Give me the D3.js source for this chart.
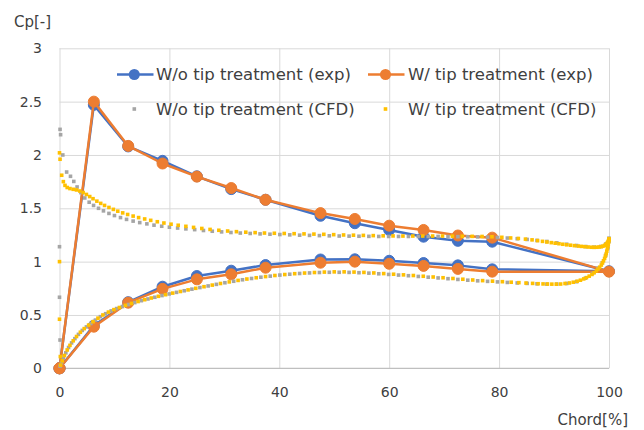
<!DOCTYPE html>
<html>
<head>
<meta charset="utf-8">
<script src="https://cdn.jsdelivr.net/npm/d3@7"></script>
<style>
  html, body { margin: 0; padding: 0; background: #ffffff; }
  svg { display: block; }
  text { font-family: "DejaVu Sans", "Noto Sans", sans-serif; fill: #404040; }
</style>
</head>
<body>
<svg id="chart" width="644" height="430"></svg>
<script>
// ---- Axis ticks ----
const xTicks = [0, 20, 40, 60, 80, 100];
const yTicks = [0, 0.5, 1, 1.5, 2, 2.5, 3];

// ---- Experimental data: chord positions [%], upper surface then lower surface ----
const expChord = [0, 6.25, 12.5, 18.75, 25, 31.25, 37.5, 47.5, 53.75, 60, 66.25, 72.5, 78.75, 100,
                  78.75, 72.5, 66.25, 60, 53.75, 47.5, 37.5, 31.25, 25, 18.75, 12.5, 6.25, 0];
const expWoCp = [0, 2.47, 2.08, 1.945, 1.80, 1.68, 1.58, 1.43, 1.36, 1.297, 1.234, 1.195, 1.187, 0.91,
                 0.928, 0.965, 0.987, 1.008, 1.022, 1.02, 0.968, 0.915, 0.865, 0.765, 0.62, 0.40, 0];
const expWCp  = [0, 2.50, 2.085, 1.92, 1.797, 1.69, 1.58, 1.455, 1.40, 1.337, 1.297, 1.245, 1.225, 0.906,
                 0.906, 0.932, 0.96, 0.98, 1.0, 0.99, 0.943, 0.881, 0.834, 0.745, 0.615, 0.39, 0];

// ---- CFD without tip treatment: [chord %, Cp] ----
const cfdWoEdge = [[0.1, 2.24], [0.2, 2.19], [0.0, 1.14], [0.0, 0.666], [0.1, 0.265]];
const cfdWoUpper = [[0.6,2.0],[1.3,1.84],[2.0,1.8],[2.6,1.752],[3.2,1.7],[3.9,1.647],[4.6,1.597],[5.4,1.557],
  [6.2,1.527],[7.1,1.5],[8.0,1.476],[9.0,1.452],[10.0,1.432],[11.1,1.413],[12.2,1.396],[13.4,1.38],
  [14.6,1.366],[15.9,1.354],[17.2,1.342],[18.6,1.332],[20.0,1.323],[21.5,1.315],[23.0,1.307],[24.6,1.3],
  [26.2,1.292],[27.8,1.285],[29.5,1.279],[31.2,1.273],[32.9,1.268],[34.7,1.264],[36.5,1.26],[38.3,1.257],
  [40.1,1.254],[41.9,1.251],[43.7,1.248],[45.5,1.246],[47.3,1.244],[49.1,1.242],[50.9,1.24],[52.7,1.239],
  [54.5,1.238],[56.3,1.237],[58.1,1.236],[59.9,1.236],[61.7,1.236],[63.5,1.236],[65.3,1.236],[67.1,1.236],
  [68.9,1.236],[70.7,1.235],[72.5,1.234],[74.3,1.233],[76.1,1.232],[77.9,1.23],[79.7,1.226],[81.5,1.221],
  [83.3,1.215],[85.1,1.208],[86.9,1.199],[88.7,1.189],[90.5,1.176],[92.3,1.163],[94.1,1.151],[95.8,1.141],
  [97.3,1.136],[98.5,1.142],[99.4,1.165],[100,1.22]];
const cfdWoLower = [[0.1,0.02],[0.35,0.05],[0.7,0.095],[1.15,0.145],[1.65,0.195],[2.2,0.238],[2.8,0.278],
  [3.45,0.318],[4.15,0.355],[4.9,0.388],[5.7,0.42],[6.55,0.452],[7.45,0.484],[8.4,0.512],[9.4,0.538],
  [10.4,0.56],[11.45,0.579],[12.55,0.598],[13.7,0.616],[14.9,0.634],[16.1,0.65],[17.35,0.666],[18.65,0.682],
  [19.95,0.697],[21.3,0.712],[22.7,0.727],[24.1,0.742],[25.55,0.757],[27.05,0.772],[28.55,0.787],[30.1,0.802],
  [31.7,0.816],[33.3,0.83],[34.95,0.842],[36.65,0.854],[38.35,0.864],[40.1,0.874],[41.9,0.882],[43.7,0.889],
  [45.5,0.894],[47.3,0.898],[49.1,0.9],[50.9,0.9],[52.7,0.899],[54.5,0.896],[56.3,0.892],[58.1,0.886],
  [59.9,0.88],[61.7,0.874],[63.5,0.868],[65.3,0.861],[67.1,0.854],[68.9,0.847],[70.7,0.84],[72.5,0.833],
  [74.3,0.826],[76.1,0.82],[77.9,0.815],[79.7,0.81],[81.5,0.805],[83.3,0.8],[85.1,0.796],[86.9,0.792],
  [88.7,0.789],[90.5,0.789],[92.3,0.795],[94.1,0.812],[95.7,0.845],[97.0,0.89],[98.0,0.94],[98.8,0.99],
  [99.4,1.06],[99.8,1.13],[100,1.19]];

// ---- CFD with tip treatment: [chord %, Cp] ----
const cfdWEdge = [[0.0, 2.02], [0.1, 1.96], [0.0, 1.0], [0.0, 0.46], [0.15, 0.11]];
const cfdWUpper = [[0.4,1.81],[0.7,1.75],[1.0,1.715],[1.4,1.695],[1.9,1.685],[2.5,1.678],[3.1,1.672],
  [3.7,1.662],[4.3,1.648],[4.9,1.63],[5.5,1.61],[6.1,1.59],[6.8,1.567],[7.5,1.546],[8.2,1.527],[9.0,1.508],
  [9.8,1.49],[10.6,1.473],[11.5,1.457],[12.4,1.442],[13.4,1.427],[14.4,1.413],[15.5,1.4],[16.6,1.387],
  [17.8,1.374],[19.0,1.362],[20.3,1.351],[21.6,1.341],[23.0,1.331],[24.4,1.321],[25.9,1.311],[27.4,1.302],
  [29.0,1.294],[30.6,1.287],[32.2,1.281],[33.9,1.276],[35.6,1.272],[37.3,1.268],[39.1,1.266],[40.9,1.264],
  [42.7,1.262],[44.5,1.26],[46.3,1.258],[48.1,1.256],[49.9,1.253],[51.7,1.25],[53.5,1.248],[55.3,1.246],
  [57.1,1.244],[58.9,1.242],[60.7,1.241],[62.5,1.24],[64.3,1.24],[66.1,1.24],[67.9,1.24],[69.7,1.24],
  [71.5,1.239],[73.3,1.238],[75.1,1.237],[76.9,1.236],[78.7,1.233],[80.5,1.228],[82.1,1.222],[83.5,1.217],
  [84.8,1.211],[86.0,1.204],[87.0,1.197],[87.9,1.19],[88.7,1.184],[89.5,1.178],[90.2,1.173],[90.9,1.168],
  [91.6,1.163],[92.3,1.158],[93.0,1.154],[93.7,1.15],[94.4,1.146],[95.0,1.143],[95.6,1.14],[96.2,1.137],
  [96.8,1.135],[97.3,1.134],[97.8,1.135],[98.2,1.137],[98.6,1.14],[98.9,1.145],[99.2,1.152],[99.4,1.16],
  [99.6,1.17],[99.75,1.18],[99.85,1.19],[99.95,1.2],[100,1.21]];
const cfdWLower = [[0.2,0.03],[0.5,0.07],[0.9,0.12],[1.4,0.172],[1.9,0.215],[2.5,0.258],[3.1,0.298],
  [3.8,0.338],[4.5,0.372],[5.3,0.405],[6.1,0.437],[7.0,0.47],[7.9,0.5],[8.9,0.527],[9.9,0.55],[10.9,0.57],
  [12.0,0.59],[13.1,0.608],[14.3,0.626],[15.5,0.643],[16.7,0.659],[18.0,0.675],[19.3,0.69],[20.6,0.705],
  [22.0,0.72],[23.4,0.735],[24.8,0.75],[26.3,0.765],[27.8,0.78],[29.3,0.795],[30.9,0.81],[32.5,0.824],
  [34.1,0.837],[35.8,0.849],[37.5,0.86],[39.2,0.87],[41.0,0.879],[42.8,0.887],[44.6,0.893],[46.4,0.898],
  [48.2,0.902],[50.0,0.904],[51.8,0.904],[53.6,0.902],[55.4,0.899],[57.2,0.894],[59.0,0.888],[60.8,0.882],
  [62.6,0.876],[64.4,0.87],[66.2,0.863],[68.0,0.856],[69.8,0.849],[71.6,0.842],[73.4,0.835],[75.2,0.828],
  [77.0,0.822],[78.8,0.817],[80.6,0.812],[82.2,0.807],[83.6,0.803],[84.9,0.799],[86.1,0.796],[87.1,0.793],
  [88.0,0.791],[88.8,0.79],[89.6,0.789],[90.4,0.789],[91.2,0.79],[92.0,0.795],[92.8,0.8],[93.5,0.807],
  [94.2,0.816],[94.8,0.826],[95.4,0.838],[95.9,0.85],[96.4,0.864],[96.9,0.88],[97.3,0.896],[97.7,0.913],
  [98.0,0.93],[98.3,0.948],[98.6,0.968],[98.8,0.988],[99.0,1.008],[99.2,1.03],[99.35,1.052],[99.5,1.075],
  [99.6,1.098],[99.7,1.12],[99.8,1.142],[99.87,1.163],[99.93,1.183],[99.97,1.2],[100,1.215]];

// ---- Series styling ----
const legendLabels = ["W/o tip treatment (exp)", "W/ tip treatment (exp)",
                      "W/o tip treatment (CFD)", "W/ tip treatment (CFD)"];
const colors = { wo: "#4472C4", w: "#ED7D31", woCfd: "#A5A5A5", wCfd: "#FFC000" };
const fontStack = "DejaVu Sans, Noto Sans, sans-serif";

const svg = d3.select("#chart");
const x = d3.scaleLinear().domain([0, 100]).range([59.5, 609]);
const y = d3.scaleLinear().domain([0, 3]).range([368.3, 48.3]);

// Gridlines
const grid = svg.append("g");
grid.append("g")
  .attr("transform", `translate(0,${y(0)})`)
  .call(d3.axisBottom(x).tickValues(xTicks).tickSize(-(y(0) - y(3))).tickFormat(""))
  .call(g => g.select(".domain").remove())
  .call(g => g.selectAll("line").attr("stroke", "#d9d9d9").attr("stroke-width", 1));
grid.append("g")
  .attr("transform", `translate(${x(0)},0)`)
  .call(d3.axisLeft(y).tickValues(yTicks.filter(v => v > 0)).tickSize(-(x(100) - x(0))).tickFormat(""))
  .call(g => g.select(".domain").remove())
  .call(g => g.selectAll("line").attr("stroke", "#d9d9d9").attr("stroke-width", 1));
// Category axis line
svg.append("line")
  .attr("x1", x(0)).attr("x2", x(100)).attr("y1", y(0)).attr("y2", y(0))
  .attr("stroke", "#bfbfbf").attr("stroke-width", 1.2);

// Tick labels
svg.append("g")
  .attr("transform", `translate(0,${y(0)})`)
  .call(d3.axisBottom(x).tickValues(xTicks).tickSize(0).tickPadding(19).tickFormat(d3.format("d")))
  .call(g => g.select(".domain").remove())
  .call(g => g.selectAll("text").attr("font-size", 14).attr("fill", "#404040")
    .attr("font-family", fontStack));
svg.append("g")
  .attr("transform", `translate(42,0)`)
  .call(d3.axisLeft(y).tickValues(yTicks).tickSize(0).tickPadding(0).tickFormat(d3.format("")))
  .call(g => g.select(".domain").remove())
  .call(g => g.selectAll("text").attr("font-size", 14).attr("fill", "#404040")
    .attr("font-family", fontStack));

// Axis titles
svg.append("text").attr("x", 14).attr("y", 26.5).attr("font-size", 15).text("Cp[-]");
svg.append("text").attr("x", 628).attr("y", 425).attr("text-anchor", "end").attr("font-size", 15).text("Chord[%]");

// Experimental series: lines with circle markers
const line = d3.line().x(d => x(d[0])).y(d => y(d[1]));
function drawExp(cp, color) {
  const pts = expChord.map((c, i) => [c, cp[i]]);
  const g = svg.append("g");
  g.append("path").datum(pts).attr("d", line)
    .attr("fill", "none").attr("stroke", color).attr("stroke-width", 2.5)
    .attr("stroke-linejoin", "round");
  g.selectAll("circle").data(pts).join("circle")
    .attr("cx", d => x(d[0])).attr("cy", d => y(d[1])).attr("r", 5.5)
    .attr("fill", color).attr("stroke", color).attr("stroke-width", 1);
}
drawExp(expWoCp, colors.wo);
drawExp(expWCp, colors.w);

// CFD series: small square markers
const sq = 3.6;
function drawCfd(sets, color) {
  const pts = [].concat(...sets);
  svg.append("g").selectAll("rect").data(pts).join("rect")
    .attr("x", d => x(d[0]) - sq / 2).attr("y", d => y(d[1]) - sq / 2)
    .attr("width", sq).attr("height", sq).attr("fill", color);
}
drawCfd([cfdWoEdge, cfdWoUpper, cfdWoLower], colors.woCfd);
drawCfd([cfdWEdge, cfdWUpper, cfdWLower], colors.wCfd);

// Legend (two rows, two columns)
const legend = svg.append("g");
const legendItems = [
  { label: legendLabels[0], color: colors.wo, kind: "line", lx: 117, mx: 134.3, tx: 156, ty: 74.5 },
  { label: legendLabels[1], color: colors.w, kind: "line", lx: 368, mx: 385.5, tx: 408, ty: 74.5 },
  { label: legendLabels[2], color: colors.woCfd, kind: "dot", mx: 134.3, tx: 156, ty: 109 },
  { label: legendLabels[3], color: colors.wCfd, kind: "dot", mx: 385.5, tx: 408, ty: 109 }
];
legendItems.forEach(it => {
  if (it.kind === "line") {
    legend.append("line").attr("x1", it.lx).attr("x2", it.lx + 36.5)
      .attr("y1", it.ty).attr("y2", it.ty).attr("stroke", it.color).attr("stroke-width", 2.5);
    legend.append("circle").attr("cx", it.mx).attr("cy", it.ty).attr("r", 5.5).attr("fill", it.color);
  } else {
    legend.append("rect").attr("x", it.mx - sq / 2).attr("y", it.ty - sq / 2)
      .attr("width", sq).attr("height", sq).attr("fill", it.color);
  }
  legend.append("text").attr("x", it.tx).attr("y", it.ty).attr("dy", "0.36em")
    .attr("font-size", 16.5).attr("fill", "#262626").text(it.label);
});
</script>
</body>
</html>
